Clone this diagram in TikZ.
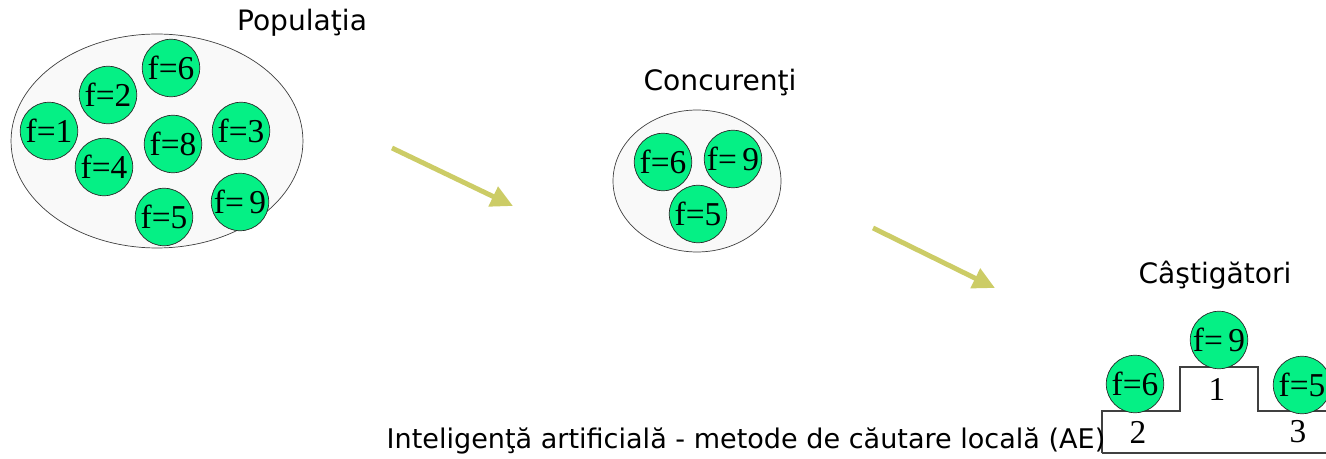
\documentclass[tikz,border=0pt]{standalone}
\usepackage{fontspec}
\setmainfont{Liberation Serif}
\newfontfamily\labelfont{DejaVu Sans}
\usetikzlibrary{arrows.meta,shapes.geometric}

\definecolor{fitgreen}{HTML}{05F085}
\definecolor{poolgray}{HTML}{F9F9F9}
\definecolor{flowolive}{HTML}{CCCC66}

\begin{document}
\begin{tikzpicture}[x=0.02cm,y=-0.02cm,
    indiv/.style={circle,draw=black!85,fill=fitgreen,minimum size=1.15cm,inner sep=0pt,
        font=\fontsize{19}{19}\selectfont},
    pool/.style={ellipse,draw=black!75,fill=poolgray,inner sep=0pt},
    title/.style={font=\labelfont\fontsize{16}{16}\selectfont},
    flow/.style={flowolive,line width=2.8pt,-{Triangle[length=0.44cm,width=0.42cm]}},
    place/.style={font=\fontsize{19}{19}\selectfont}]
    \useasboundingbox (0,0) rectangle (1326,459);

    % Population
    \node[pool,minimum width=5.84cm,minimum height=4.28cm] (pop) at (157,141) {};
    \node[title] (popname) at (302,23) {Populaţia};
    \foreach \n/\x/\y/\t in {6/171/68/f=6, 2/108/95/f=2, 1/49/131/f=1, 8/173/144/f=8,
                             3/241/131/f=3, 4/104/167/f=4, 9/240/202/f=\,9, 5/164/217/f=5}
        \node[indiv] (p\n) at (\x,\y) {\t};

    % Competitors
    \node[pool,minimum width=3.36cm,minimum height=2.84cm] (comp) at (697,181) {};
    \node[title] (compname) at (720,83) {Concurenţi};
    \node[indiv] (c6) at (663,162) {f=6};
    \node[indiv] (c9) at (733,159) {f=\,9};
    \node[indiv] (c5) at (698,214) {f=5};

    % Selection arrows
    \coordinate (a1s) at (392,148);
    \coordinate (a1e) at (513,206);
    \coordinate (a2s) at (873,228);
    \coordinate (a2e) at (995,288);
    \draw[flow] (a1s) -- (a1e);
    \draw[flow] (a2s) -- (a2e);

    % Winners on the podium
    \node[title] (winname) at (1215,275) {Câştigători};
    \draw[black!75,semithick] (1102,453) -- (1102,411) -- (1180,411) -- (1180,367)
        -- (1258,367) -- (1258,411) -- (1330,411);
    \draw[black!75,semithick] (1102,453) -- (1330,453);
    \node[place] (first) at (1217,389) {1};
    \node[place] (second) at (1138,432) {2};
    \node[place] (third) at (1298,432) {3};
    \node[indiv] (w9) at (1219,340) {f=\,9};
    \node[indiv] (w6) at (1135,384) {f=6};
    \node[indiv] (w5) at (1302,385) {f=5};

    \node[font=\labelfont\fontsize{15.4}{15.4}\selectfont] (caption) at (746,441)
        {Inteligenţă artificială - metode de căutare locală (AE)};
\end{tikzpicture}
\end{document}
